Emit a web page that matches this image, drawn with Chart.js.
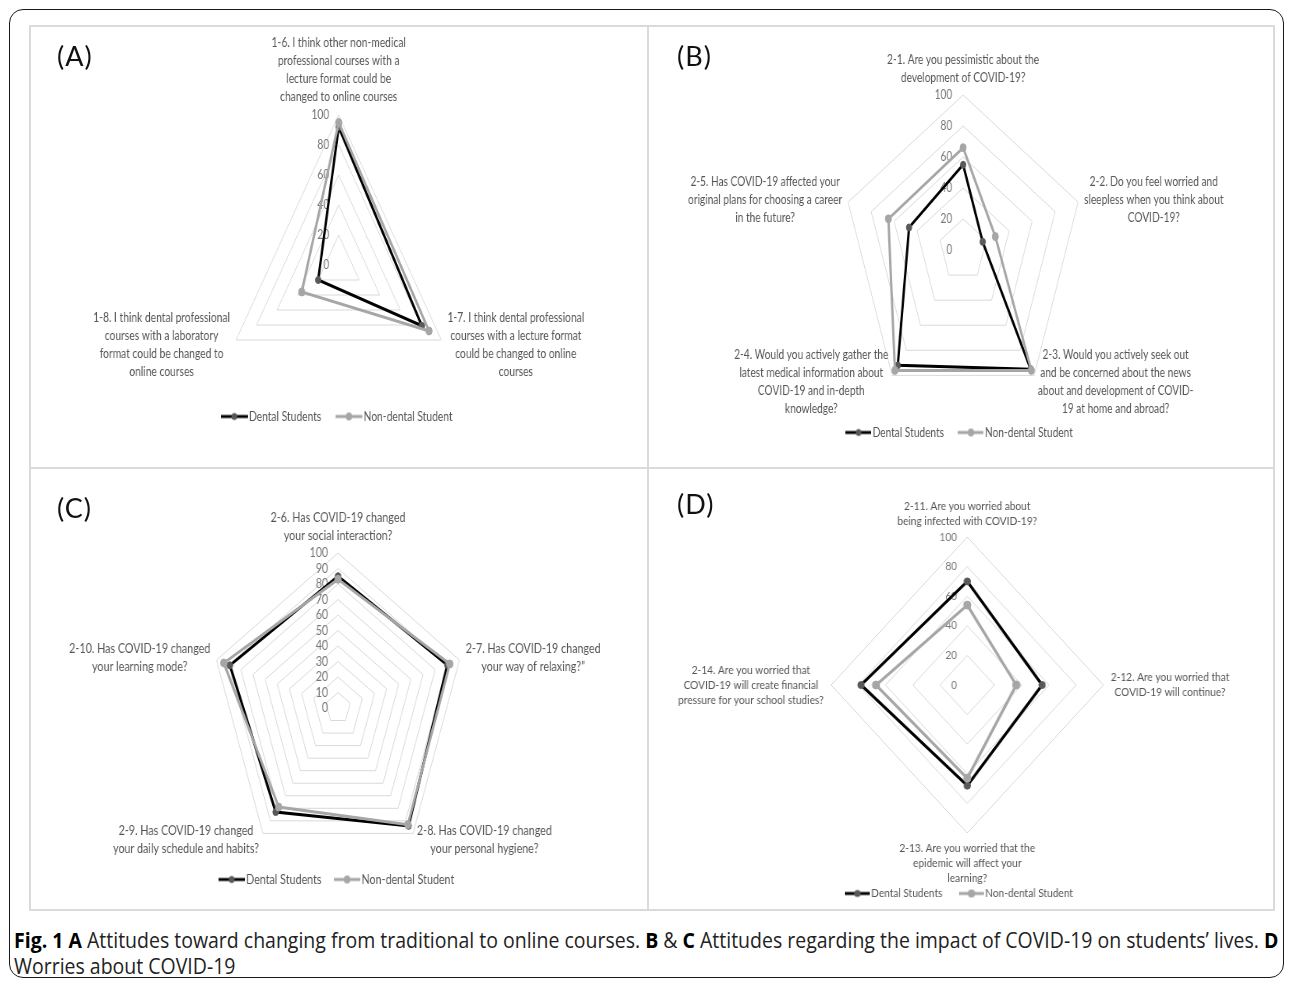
<!DOCTYPE html>
<html>
<head>
<meta charset="utf-8">
<script src="https://cdn.jsdelivr.net/npm/chart.js@4.4.1/dist/chart.umd.min.js"></script>
<style>
  html, body { margin: 0; padding: 0; background: #fff; }
  body { width: 1292px; height: 983px; position: relative; overflow: hidden; font-family: Lato, "DejaVu Sans", sans-serif; }
  #frame { position: absolute; left: 9px; top: 9px; width: 1275px; height: 969px; border: 1.5px solid #1a1a1a; border-radius: 14px; box-sizing: border-box; }
  #grid { position: absolute; left: 29px; top: 25px; width: 1246px; height: 886px; border: 2px solid #dadada; box-sizing: border-box; }
  .vline { position: absolute; left: 647px; top: 25px; width: 2px; height: 886px; background: #dadada; }
  .hline { position: absolute; left: 29px; top: 467px; width: 1246px; height: 2px; background: #dadada; }
  .panel { position: absolute; transform-origin: 0 0; }
  .panel canvas { display: block; }
  .tag { position: absolute; font-family: Lato, sans-serif; font-size: 27px; line-height: 27px; color: #111; letter-spacing: 1px; }
  #caption { position: absolute; left: 14px; top: 927px; font-family: "Open Sans", Lato, sans-serif; font-size: 21px; line-height: 26px; color: #222; white-space: nowrap; transform: scaleX(0.928); transform-origin: 0 0; }
  #caption b { color: #000; }
</style>
</head>
<body>
<div id="frame"></div>
<div id="grid"></div>
<div class="vline"></div>
<div class="hline"></div>

<div class="panel" id="pA" style="left:29px;top:25px;transform:scaleX(0.79)"><canvas id="cA" width="784" height="443"></canvas></div>
<div class="panel" id="pB" style="left:648px;top:25px;transform:scaleX(0.78)"><canvas id="cB" width="803" height="443"></canvas></div>
<div class="panel" id="pC" style="left:29px;top:468px;transform:scaleX(0.824)"><canvas id="cC" width="751" height="442"></canvas></div>
<div class="panel" id="pD" style="left:648px;top:468px;transform:scaleX(0.92)"><canvas id="cD" width="680" height="442"></canvas></div>

<div class="tag" style="left:57px;top:42px">(A)</div>
<div class="tag" style="left:677px;top:42px">(B)</div>
<div class="tag" style="left:57px;top:494px">(C)</div>
<div class="tag" style="left:677px;top:490px">(D)</div>

<div id="caption"><b>Fig. 1 A</b> Attitudes toward changing from traditional to online courses. <b>B</b> &amp; <b>C</b> Attitudes regarding the impact of COVID-19 on students’ lives. <b>D</b><br>Worries about COVID-19</div>

<script>
// ---- series names ----
const seriesNames = ['Dental Students', 'Non-dental Student'];

// ---- (A) course format ----
const labelsA = [
  ['1-6. I think other non-medical', 'professional courses with a', 'lecture format could be', 'changed to online courses'],
  ['1-7. I think dental professional', 'courses with a lecture format', 'could be changed to online', 'courses'],
  ['1-8. I think dental professional', 'courses with a laboratory', 'format could be changed to', 'online courses']
];
const dentalA = [92, 81, 20];
const nonDentalA = [95, 88, 36];
const ticksA = [0, 20, 40, 60, 80, 100];

// ---- (B) impact on students' lives ----
const labelsB = [
  ['2-1. Are you pessimistic about the', 'development of COVID-19?'],
  ['2-2. Do you feel worried and', 'sleepless when you think about', 'COVID-19?'],
  ['2-3. Would you actively seek out', 'and be concerned about the news', 'about and development of COVID-', '19 at home and abroad?'],
  ['2-4. Would you actively gather the', 'latest medical information about', 'COVID-19 and in-depth', 'knowledge?'],
  ['2-5. Has COVID-19 affected your', 'original plans for choosing a career', 'in the future?']
];
const dentalB = [55, 17, 95, 92, 47];
const nonDentalB = [66, 28, 96, 96, 65];
const ticksB = [0, 20, 40, 60, 80, 100];

// ---- (C) changes in daily life ----
const labelsC = [
  ['2-6. Has COVID-19 changed', 'your social interaction?'],
  ['2-7. Has COVID-19 changed', 'your way of relaxing?”'],
  ['2-8. Has COVID-19 changed', 'your personal hygiene?'],
  ['2-9. Has COVID-19 changed', 'your daily schedule and habits?'],
  ['2-10. Has COVID-19 changed', 'your learning mode?']
];
const dentalC = [85, 90, 94, 83, 89];
const nonDentalC = [83, 92, 93, 79, 94];
const ticksC = [0, 10, 20, 30, 40, 50, 60, 70, 80, 90, 100];

// ---- (D) worries ----
const labelsD = [
  ['2-11. Are you worried about', 'being infected with COVID-19?'],
  ['2-12. Are you worried that', 'COVID-19 will continue?'],
  ['2-13. Are you worried that the', 'epidemic will affect your', 'learning?'],
  ['2-14. Are you worried that', 'COVID-19 will create financial', 'pressure for your school studies?']
];
const dentalD = [70, 55, 68, 78];
const nonDentalD = [54, 36, 63, 67];
const ticksD = [0, 20, 40, 60, 80, 100];

// ---- styling ----
const DARK_LINE = '#000000';
const DARK_DOT = '#595959';
const GREY = '#a6a6a6';
const TEXT = '#555555';
const TICK_TEXT = '#767676';
const GRID = '#d9d9d9';

// legend swatch: a short line with a round marker in the middle
function legendIcon(lineColor, dotColor, w, r) {
  const h = 12;
  const c = document.createElement('canvas');
  c.width = w; c.height = h;
  const g = c.getContext('2d');
  g.strokeStyle = lineColor; g.lineWidth = 3;
  g.beginPath(); g.moveTo(0, h / 2); g.lineTo(w, h / 2); g.stroke();
  g.fillStyle = dotColor;
  g.beginPath(); g.arc(w / 2, h / 2, r, 0, Math.PI * 2); g.fill();
  return c;
}

// tick values beside the vertical axis and wrapped category labels around the web
const radarText = {
  id: 'radarText',
  beforeDatasetsDraw(chart, args, o) {
    const s = chart.scales.r;
    const ctx = chart.ctx;
    ctx.save();
    ctx.font = o.tickSize + 'px Lato';
    ctx.fillStyle = TICK_TEXT;
    ctx.textAlign = 'right';
    ctx.textBaseline = 'middle';
    s.ticks.forEach(t => {
      const d = s.getDistanceFromCenterForValue(t.value);
      ctx.fillText(String(t.value), s.xCenter - o.tickOffset, s.yCenter - d);
    });
    ctx.font = o.labelSize + 'px Lato';
    ctx.fillStyle = TEXT;
    ctx.textAlign = 'center';
    chart.data.labels.forEach((lines, i) => {
      const p = s.getPointPosition(i, s.drawingArea + o.labelPad);
      const a = s.getIndexAngle(i);
      const w = Math.max(...lines.map(l => ctx.measureText(l).width));
      const h = lines.length * o.lineHeight;
      let left, top;
      if (Math.abs(a) < 1e-6 || Math.abs(a - 2 * Math.PI) < 1e-6) { left = p.x - w / 2; top = p.y - h; }
      else if (Math.abs(a - Math.PI) < 1e-6) { left = p.x - w / 2; top = p.y; }
      else if (a < Math.PI) { left = p.x; top = p.y - h / 2; }
      else { left = p.x - w; top = p.y - h / 2; }
      lines.forEach((l, j) => ctx.fillText(l, left + w / 2, top + o.lineHeight * (j + 0.5)));
    });
    ctx.restore();
  }
};

function radar(canvasId, labels, dental, nonDental, ticks, g) {
  const step = ticks[1] - ticks[0];
  return new Chart(document.getElementById(canvasId), {
    type: 'radar',
    data: {
      labels: labels,
      datasets: [
        { label: seriesNames[0], data: dental, borderColor: DARK_LINE, borderWidth: 3,
          pointRadius: g.dotR, pointBackgroundColor: DARK_DOT, pointBorderColor: DARK_DOT, pointBorderWidth: 1,
          fill: false, tension: 0, order: 1 },
        { label: seriesNames[1], data: nonDental, borderColor: GREY, borderWidth: 3,
          pointRadius: g.dotR + 0.5, pointBackgroundColor: GREY, pointBorderColor: GREY, pointBorderWidth: 1,
          fill: false, tension: 0, order: 0 }
      ]
    },
    options: {
      responsive: false,
      animation: false,
      events: [],
      layout: { padding: { bottom: g.legendPad } },
      scales: {
        r: {
          min: ticks[0], max: ticks[ticks.length - 1],
          ticks: { stepSize: step, display: false },
          grid: { color: GRID, lineWidth: 1 },
          angleLines: { display: false },
          pointLabels: { display: false },
          afterFit(scale) {
            scale.xCenter = g.cx;
            scale.yCenter = g.cy;
            scale.drawingArea = g.R;
          }
        }
      },
      plugins: {
        tooltip: { enabled: false },
        legend: {
          position: 'bottom',
          labels: {
            usePointStyle: true,
            pointStyleWidth: g.iconW - g.font + 3,
            padding: g.itemGap,
            color: TEXT,
            font: { family: 'Lato', size: g.font },
            generateLabels() {
              return [
                { text: seriesNames[0], pointStyle: legendIcon(DARK_LINE, DARK_DOT, g.iconW, g.dotR), fontColor: TEXT, lineWidth: 0, hidden: false, datasetIndex: 0 },
                { text: seriesNames[1], pointStyle: legendIcon(GREY, GREY, g.iconW, g.dotR + 0.5), fontColor: TEXT, lineWidth: 0, hidden: false, datasetIndex: 1 }
              ];
            }
          }
        },
        radarText: { tickSize: g.font, tickOffset: g.tickOffset, labelSize: g.font, lineHeight: g.lineHeight, labelPad: g.labelPad }
      }
    },
    plugins: [radarText]
  });
}

radar('cA', labelsA, dentalA, nonDentalA, ticksA,
  { cx: 392, cy: 240, R: 150, font: 13, lineHeight: 18, labelPad: 9, tickOffset: 12, dotR: 3.5, iconW: 34, itemGap: 23, legendPad: 35 });
radar('cB', labelsB, dentalB, nonDentalB, ticksB,
  { cx: 404, cy: 225, R: 155, font: 13, lineHeight: 18, labelPad: 8, tickOffset: 14, dotR: 3.5, iconW: 33, itemGap: 23, legendPad: 19 });
radar('cC', labelsC, dentalC, nonDentalC, ticksC,
  { cx: 375, cy: 240, R: 155, font: 13, lineHeight: 18, labelPad: 8, tickOffset: 12, dotR: 3.5, iconW: 32, itemGap: 20, legendPad: 14 });
radar('cD', labelsD, dentalD, nonDentalD, ticksD,
  { cx: 347, cy: 217, R: 148, font: 11, lineHeight: 15, labelPad: 8, tickOffset: 11, dotR: 3.5, iconW: 27, itemGap: 22, legendPad: 1 });
</script>
</body>
</html>
